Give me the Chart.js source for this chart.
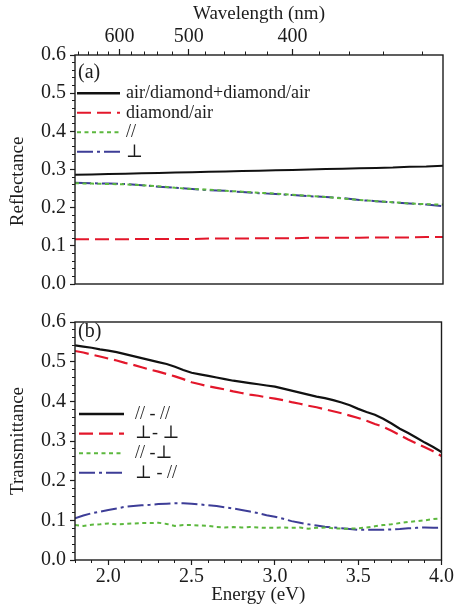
<!DOCTYPE html>
<html>
<head>
<meta charset="utf-8">
<script src="https://cdn.jsdelivr.net/npm/chart.js@4.4.1/dist/chart.umd.min.js"></script>
<style>
  html, body { margin: 0; padding: 0; background: #fff; }
  #wrap { position: relative; width: 454px; height: 609px; }
  #wrap canvas { position: absolute; left: 0; }
  #cR { top: 0; }
  #cT { top: 300px; }
</style>
</head>
<body>
<div id="wrap">
  <canvas id="cR" width="454" height="300"></canvas>
  <canvas id="cT" width="454" height="309"></canvas>
</div>
<script>
// ─── DATA ─────────────────────────────────────────────────────────────────────
// (a) reflectance, 0.1 eV steps
const energyR = [1.8, 1.9, 2.0, 2.1, 2.2, 2.3, 2.4, 2.5, 2.6, 2.7, 2.8, 2.9,
                 3.0, 3.1, 3.2, 3.3, 3.4, 3.5, 3.6, 3.7, 3.8, 3.9, 4.0];
const reflBoth  = [0.286, 0.287, 0.288, 0.289, 0.290, 0.291, 0.292, 0.293, 0.294, 0.295, 0.296, 0.297,
                   0.298, 0.299, 0.300, 0.301, 0.302, 0.303, 0.304, 0.305, 0.307, 0.308, 0.310];
const reflBack  = [0.117, 0.117, 0.117, 0.117, 0.118, 0.118, 0.118, 0.118, 0.119, 0.119, 0.119, 0.120,
                   0.120, 0.120, 0.121, 0.121, 0.121, 0.121, 0.122, 0.122, 0.122, 0.123, 0.123];
const reflPar   = [0.264, 0.263, 0.262, 0.261, 0.259, 0.256, 0.252, 0.249, 0.247, 0.244, 0.242, 0.239,
                   0.237, 0.234, 0.231, 0.228, 0.224, 0.220, 0.217, 0.214, 0.211, 0.209, 0.208];
const reflPerp  = [0.265, 0.264, 0.263, 0.262, 0.259, 0.255, 0.252, 0.249, 0.246, 0.244, 0.241, 0.238,
                   0.236, 0.233, 0.230, 0.228, 0.225, 0.220, 0.217, 0.214, 0.211, 0.208, 0.204];

// (b) transmittance, 0.05 eV steps
const energyT = [1.80, 1.85, 1.90, 1.95, 2.00, 2.05, 2.10, 2.15, 2.20, 2.25, 2.30, 2.35, 2.40, 2.45, 2.50,
                 2.55, 2.60, 2.65, 2.70, 2.75, 2.80, 2.85, 2.90, 2.95, 3.00, 3.05, 3.10, 3.15, 3.20, 3.25,
                 3.30, 3.35, 3.40, 3.45, 3.50, 3.55, 3.60, 3.65, 3.70, 3.75, 3.80, 3.85, 3.90, 3.95, 4.00];
const transParPar   = [0.541, 0.538, 0.535, 0.531, 0.528, 0.524, 0.519, 0.514, 0.509, 0.504, 0.499, 0.494, 0.487, 0.479, 0.472,
                       0.468, 0.464, 0.460, 0.456, 0.452, 0.449, 0.446, 0.443, 0.440, 0.437, 0.432, 0.427, 0.422, 0.417, 0.412,
                       0.408, 0.403, 0.397, 0.390, 0.381, 0.373, 0.366, 0.356, 0.344, 0.331, 0.320, 0.308, 0.296, 0.285, 0.272];
const transPerpPerp = [0.527, 0.523, 0.518, 0.513, 0.508, 0.503, 0.497, 0.492, 0.486, 0.480, 0.475, 0.469, 0.463, 0.456, 0.448,
                       0.443, 0.438, 0.434, 0.430, 0.425, 0.421, 0.417, 0.414, 0.410, 0.407, 0.403, 0.398, 0.394, 0.389, 0.385,
                       0.380, 0.375, 0.370, 0.364, 0.358, 0.351, 0.343, 0.336, 0.326, 0.315, 0.304, 0.294, 0.284, 0.274, 0.262];
const transParPerp  = [0.088, 0.086, 0.089, 0.090, 0.092, 0.090, 0.091, 0.092, 0.093, 0.093, 0.094, 0.091, 0.086, 0.088, 0.088,
                       0.087, 0.086, 0.083, 0.082, 0.083, 0.082, 0.083, 0.082, 0.081, 0.081, 0.082, 0.081, 0.082, 0.079, 0.081,
                       0.082, 0.080, 0.079, 0.079, 0.080, 0.082, 0.085, 0.088, 0.090, 0.093, 0.096, 0.098, 0.100, 0.103, 0.105];
const transPerpPar  = [0.105, 0.112, 0.118, 0.122, 0.126, 0.130, 0.134, 0.136, 0.138, 0.139, 0.141, 0.142, 0.143, 0.143, 0.142,
                       0.140, 0.138, 0.136, 0.133, 0.130, 0.126, 0.122, 0.118, 0.113, 0.109, 0.104, 0.098, 0.094, 0.090, 0.087,
                       0.084, 0.082, 0.080, 0.078, 0.076, 0.076, 0.076, 0.076, 0.077, 0.078, 0.080, 0.081, 0.082, 0.081, 0.082];

// axis ticks
const energyTicks = [2.0, 2.5, 3.0, 3.5, 4.0];
const yTicks      = [0.0, 0.1, 0.2, 0.3, 0.4, 0.5, 0.6];
const wlMajor     = [600, 500, 400];
const wlMinor     = [680, 660, 640, 620, 600, 580, 560, 540, 520, 500, 480, 460, 440, 420, 400, 380, 360, 340, 320];

const reflLabels  = ['air/diamond+diamond/air', 'diamond/air', '//', '\u22A5'];
const transLabels = ['// - //', '\u22A5- \u22A5', '// -\u22A5', '\u22A5 - //'];

// ─── STYLE ────────────────────────────────────────────────────────────────────
const SERIF = "'Liberation Serif', 'DejaVu Serif', serif";
const INK   = '#1c1c1c';
const HC    = 1239.84;   // eV·nm

const C_BLACK = '#111111';
const C_RED   = '#e3172b';
const C_GREEN = '#5cb83e';
const C_BLUE  = '#3d3d97';

const DASH_RED   = [14, 6];
const DASH_GREEN = [4, 3.5];
const DASH_BLUE  = [16, 4, 3, 4];

Chart.defaults.font.family = SERIF;
Chart.defaults.color = INK;

function line(label, data, color, dash, width) {
  return { label, data, borderColor: color, borderDash: dash, borderWidth: width || 2,
           pointRadius: 0, fill: false, tension: 0 };
}

function yScales(title, titlePadTop) {
  return {
    y: {
      position: 'left', weight: 1, min: 0, max: 0.6,
      afterBuildTicks: s => { s.ticks = yTicks.map(v => ({ value: v })); },
      ticks: { padding: 4, font: { size: 20 }, color: INK, callback: v => v.toFixed(1) },
      grid: { drawOnChartArea: false, tickLength: 5, tickColor: INK, tickWidth: 1.2 },
      border: { display: false },
      title: { display: true, text: title, color: INK, font: { size: 19 }, padding: { top: titlePadTop } },
      afterFit: s => { s.width = 75; },
    },
    ym: {
      position: 'left', weight: 0, min: 0, max: 0.6,
      ticks: { stepSize: 0.02, display: false },
      grid: { drawOnChartArea: false, tickLength: 3, tickColor: INK, tickWidth: 1 },
      border: { display: false },
      afterFit: s => { s.width = 0; },
    },
  };
}

// legend, panel tag and frame drawn inside the plot box
const panelDecor = {
  id: 'panelDecor',
  afterDatasetsDraw(chart, args, o) {
    const { ctx, chartArea: a } = chart;
    ctx.save();
    ctx.textBaseline = 'middle';
    ctx.textAlign = 'left';
    chart.data.datasets.forEach((ds, i) => {
      const y = o.legY + i * o.legStep;
      ctx.strokeStyle = ds.borderColor;
      ctx.lineWidth = i === 0 ? 2.4 : ds.borderWidth;
      ctx.setLineDash(ds.borderDash || []);
      ctx.beginPath();
      ctx.moveTo(o.legX0, y);
      ctx.lineTo(o.legX1, y);
      ctx.stroke();
      ctx.setLineDash([]);
      ctx.fillStyle = INK;
      ctx.font = `18px ${SERIF}`;
      ctx.fillText(ds.label, o.textX, y);
    });
    ctx.font = `20px ${SERIF}`;
    ctx.fillText(o.tag, a.left + 3, a.top + o.tagDy);
    ctx.strokeStyle = INK;
    ctx.lineWidth = 1.4;
    ctx.strokeRect(a.left, a.top, a.right - a.left, a.bottom - a.top);
    ctx.restore();
  },
};

// ─── (a) REFLECTANCE ─────────────────────────────────────────────────────────
new Chart(document.getElementById('cR'), {
  type: 'line',
  data: {
    labels: energyR,
    datasets: [
      line(reflLabels[0], reflBoth, C_BLACK, [], 2),
      line(reflLabels[1], reflBack, C_RED, DASH_RED),
      line(reflLabels[2], reflPar, C_GREEN, DASH_GREEN),
      line(reflLabels[3], reflPerp, C_BLUE, DASH_BLUE),
    ],
  },
  options: {
    responsive: false, animation: false,
    layout: { padding: { left: 0, right: 11, top: 0, bottom: 6 } },
    plugins: {
      legend: { display: false }, tooltip: { enabled: false },
      panelDecor: { legY: 93.3, legStep: 19.5, legX0: 77, legX1: 120, textX: 126, tag: '(a)', tagDy: 18 },
    },
    scales: {
      x: {
        type: 'linear', position: 'top', weight: 1, min: 1.8, max: 4.0,
        afterBuildTicks: s => { s.ticks = wlMajor.map(w => ({ value: HC / w })); },
        ticks: { padding: 0, autoSkip: false, maxRotation: 0, font: { size: 20 }, color: INK,
                 callback: (v, i) => String(wlMajor[i]) },
        grid: { drawOnChartArea: false, tickLength: 6, tickColor: INK, tickWidth: 1.2 },
        border: { display: false },
        title: { display: true, text: 'Wavelength (nm)', color: INK, font: { size: 19 }, padding: { top: 3 } },
        afterFit: s => { s.height = 55; },
      },
      xm: {
        type: 'linear', position: 'top', weight: 0, min: 1.8, max: 4.0,
        afterBuildTicks: s => { s.ticks = wlMinor.map(w => ({ value: HC / w })); },
        ticks: { display: false },
        grid: { drawOnChartArea: false, tickLength: 3.5, tickColor: INK, tickWidth: 1 },
        border: { display: false },
        afterFit: s => { s.height = 0; },
      },
      ...yScales('Reflectance     ', 7),
    },
  },
  plugins: [panelDecor],
});

// ─── (b) TRANSMITTANCE ───────────────────────────────────────────────────────
new Chart(document.getElementById('cT'), {
  type: 'line',
  data: {
    labels: energyT,
    datasets: [
      line(transLabels[0], transParPar, C_BLACK, [], 2.2),
      line(transLabels[1], transPerpPerp, C_RED, DASH_RED, 2.2),
      line(transLabels[2], transParPerp, C_GREEN, DASH_GREEN),
      line(transLabels[3], transPerpPar, C_BLUE, DASH_BLUE),
    ],
  },
  options: {
    responsive: false, animation: false,
    layout: { padding: { left: 0, right: 11, top: 22, bottom: 0 } },
    plugins: {
      legend: { display: false }, tooltip: { enabled: false },
      panelDecor: { legY: 114, legStep: 19.6, legX0: 79, legX1: 124, textX: 135, tag: '(b)', tagDy: 10 },
    },
    scales: {
      x: {
        type: 'linear', position: 'bottom', weight: 1, min: 1.8, max: 4.0,
        afterBuildTicks: s => { s.ticks = energyTicks.map(v => ({ value: v })); },
        ticks: { padding: 0, autoSkip: false, maxRotation: 0, font: { size: 20 }, color: INK,
                 callback: v => v.toFixed(1) },
        grid: { drawOnChartArea: false, tickLength: 5, tickColor: INK, tickWidth: 1.2 },
        border: { display: false },
        title: { display: true, text: 'Energy (eV)', color: INK, font: { size: 19 }, padding: { bottom: 3 } },
        afterFit: s => { s.height = 49; },
      },
      xm: {
        type: 'linear', position: 'bottom', weight: 0, min: 1.8, max: 4.0,
        ticks: { stepSize: 0.1, display: false },
        grid: { drawOnChartArea: false, tickLength: 3, tickColor: INK, tickWidth: 1 },
        border: { display: false },
        afterFit: s => { s.height = 0; },
      },
      ...yScales('Transmittance', 7),
    },
  },
  plugins: [panelDecor],
});
</script>
</body>
</html>
